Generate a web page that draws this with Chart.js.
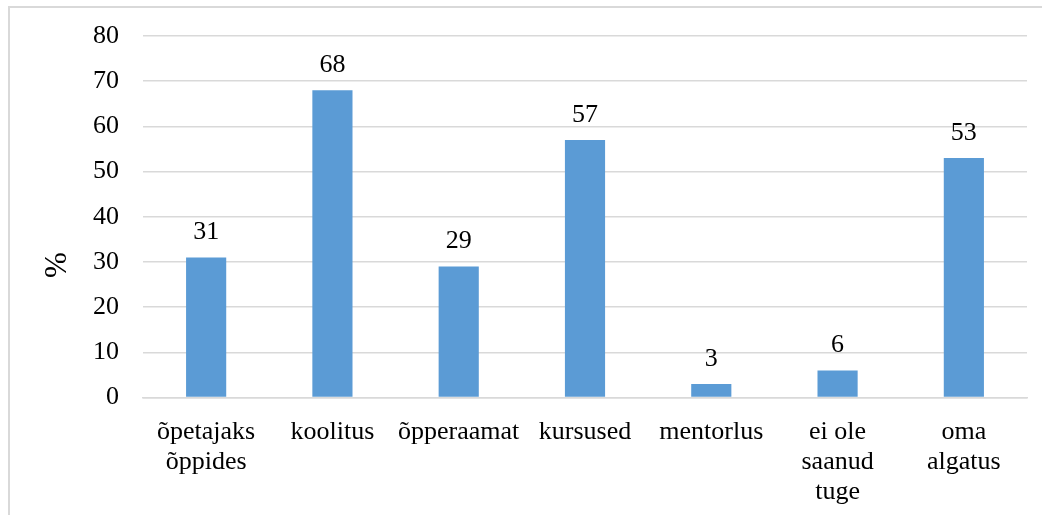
<!DOCTYPE html>
<html>
<head>
<meta charset="utf-8">
<script src="https://cdn.jsdelivr.net/npm/chart.js@4.4.1/dist/chart.umd.min.js"></script>
<style>
  html, body { margin: 0; padding: 0; background: #ffffff; }
  #wrap { position: relative; width: 1042px; height: 515px; }
</style>
</head>
<body>
<div id="wrap"><canvas id="chart" width="1042" height="515"></canvas></div>
<script>
// Support sources (share of respondents, %)
const categories = [
  ["õpetajaks", "õppides"],
  "koolitus",
  "õpperaamat",
  "kursused",
  "mentorlus",
  ["ei ole", "saanud", "tuge"],
  ["oma", "algatus"]
];
const values = [31, 68, 29, 57, 3, 6, 53];
const yTicks = [0, 10, 20, 30, 40, 50, 60, 70, 80];
const axisTitle = "%";

const FONT = "'Liberation Serif', 'Times New Roman', serif";
const BAR = "#5B9BD5";
const GRID = "#D9D9D9";

// Light frame along the top and left edges
const framePlugin = {
  id: "frame",
  beforeDraw(chart) {
    const ctx = chart.ctx;
    ctx.save();
    ctx.strokeStyle = GRID;
    ctx.lineWidth = 2;
    ctx.beginPath();
    ctx.moveTo(9, chart.height);
    ctx.lineTo(9, 7);
    ctx.lineTo(chart.width, 7);
    ctx.stroke();
    ctx.restore();
  }
};

// Value labels above each bar
const valueLabels = {
  id: "valueLabels",
  afterDatasetsDraw(chart) {
    const ctx = chart.ctx;
    const meta = chart.getDatasetMeta(0);
    ctx.save();
    ctx.font = "26px " + FONT;
    ctx.fillStyle = "#000000";
    ctx.textAlign = "center";
    ctx.textBaseline = "alphabetic";
    meta.data.forEach((bar, i) => {
      ctx.fillText(String(values[i]), bar.x, bar.y - 18);
    });
    ctx.restore();
  }
};

// Rotated axis title on the left
const yTitle = {
  id: "yTitle",
  afterDraw(chart) {
    const ctx = chart.ctx;
    ctx.save();
    ctx.font = "31px " + FONT;
    ctx.fillStyle = "#000000";
    ctx.translate(57.5, 265);
    ctx.rotate(-Math.PI / 2);
    ctx.textAlign = "center";
    ctx.textBaseline = "middle";
    ctx.fillText(axisTitle, 0, 0);
    ctx.restore();
  }
};

new Chart(document.getElementById("chart"), {
  type: "bar",
  data: {
    labels: categories,
    datasets: [{
      data: values,
      backgroundColor: BAR,
      borderWidth: 0,
      categoryPercentage: 1,
      barPercentage: 0.318
    }]
  },
  options: {
    responsive: false,
    animation: false,
    layout: { padding: { top: 36, right: 15, bottom: 0, left: 0 } },
    plugins: {
      legend: { display: false },
      tooltip: { enabled: false }
    },
    scales: {
      x: {
        grid: { display: false, drawTicks: false },
        border: { display: true, color: GRID, width: 1.5 },
        ticks: {
          autoSkip: false,
          maxRotation: 0,
          minRotation: 0,
          padding: 20,
          color: "#000000",
          font: { family: FONT, size: 26, lineHeight: 1.154 }
        },
        afterFit(scale) { scale.height = 117.5; }
      },
      y: {
        min: 0,
        max: 80,
        afterBuildTicks(scale) { scale.ticks = yTicks.map(v => ({ value: v })); },
        grid: { color: GRID, lineWidth: 1.5, drawTicks: false },
        border: { display: false },
        ticks: {
          padding: 24,
          color: "#000000",
          font: { family: FONT, size: 26 }
        },
        afterFit(scale) {
          scale.width = 143;
          scale.paddingTop = 0;
          scale.paddingBottom = 0;
        }
      }
    }
  },
  plugins: [framePlugin, valueLabels, yTitle]
});
</script>
</body>
</html>
